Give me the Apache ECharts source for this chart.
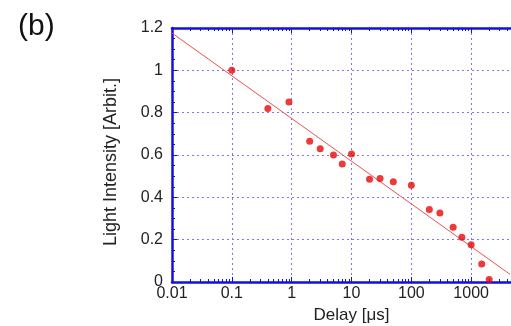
<!DOCTYPE html>
<html lang="en">
<head>
    <meta charset="UTF-8">
    <title>Light Intensity vs Delay</title>
    <script src="https://cdn.jsdelivr.net/npm/echarts@6/dist/echarts.min.js"></script>
    <style>
        html, body { margin: 0; padding: 0; background: #fff; }
        #main { width: 511px; height: 326px; }
    </style>
</head>
<body>
<div id="main"></div>
<script>
    // measured points
    var delay = [0.1, 0.4, 0.9, 2, 3, 5, 7, 10, 20, 30, 50, 100, 200, 300, 500, 700, 1000, 1500, 2000];
    var intensity = [1.0, 0.82, 0.85, 0.665, 0.63, 0.6, 0.558, 0.605, 0.486, 0.489, 0.474, 0.457, 0.342, 0.326, 0.259, 0.211, 0.176, 0.085, 0.012];
    // fitted line end points
    var fitX = [0.01, 4470];
    var fitY = [1.176, 0.036];

    var yTicks = ['0', '0.2', '0.4', '0.6', '0.8', '1', '1.2'];
    var blue = '#1010e0';
    var gridBlue = '#7a7aee';
    var font = 'Arial, "Liberation Sans", sans-serif';

    var pts = delay.map(function (d, i) { return [d, intensity[i]]; });
    var fit = fitX.map(function (d, i) { return [d, fitY[i]]; });

    var myChart = echarts.init(document.getElementById('main'));
    var option = {
        animation: false,
        title: {
            text: '(b)',
            left: 13,
            top: 7,
            textStyle: { fontFamily: font, fontSize: 30, fontWeight: 'normal', color: '#111' }
        },
        grid: { left: 172, right: -20, top: 28, bottom: 44, containLabel: false, outerBoundsMode: 'none' },
        xAxis: [{
            type: 'log',
            min: 0.01,
            max: 10000,
            logBase: 10,
            name: 'Delay [μs]',
            nameLocation: 'middle',
            nameGap: 24,
            nameTextStyle: { fontFamily: font, fontSize: 17, color: '#222' },
            axisLine: { lineStyle: { color: blue, width: 2.5 } },
            axisTick: { inside: true, length: 5, lineStyle: { color: blue } },
            minorTick: { show: true, splitNumber: 9, length: 3, lineStyle: { color: blue } },
            axisLabel: {
                fontFamily: font, fontSize: 16, color: '#222', margin: 4,
                showMaxLabel: false,
                formatter: function (v) { return v >= 10000 ? '' : String(v); }
            },
            splitLine: { show: true, lineStyle: { color: gridBlue, type: [2, 3], width: 1 } }
        }, {
            type: 'log',
            position: 'top',
            min: 0.01,
            max: 10000,
            logBase: 10,
            axisLine: { show: true, lineStyle: { color: blue, width: 2.5 } },
            axisTick: { inside: true, length: 5, lineStyle: { color: blue } },
            minorTick: { show: true, splitNumber: 9, length: 3, lineStyle: { color: blue } },
            axisLabel: { show: false },
            splitLine: { show: false }
        }],
        yAxis: {
            type: 'value',
            min: 0,
            max: 1.2,
            interval: 0.2,
            name: 'Light Intensity [Arbit.]',
            nameLocation: 'middle',
            nameGap: 52,
            nameTextStyle: { fontFamily: font, fontSize: 18, color: '#222', padding: [0, 14, 0, 0] },
            axisLine: { show: true, lineStyle: { color: blue, width: 2.5 } },
            axisTick: { show: true, inside: true, length: 5, lineStyle: { color: blue } },
            minorTick: { show: true, splitNumber: 4, length: 3, lineStyle: { color: blue } },
            axisLabel: {
                fontFamily: font, fontSize: 16, color: '#222', margin: 9,
                formatter: function (v) { return yTicks[Math.round(v / 0.2)]; }
            },
            splitLine: { show: true, lineStyle: { color: gridBlue, type: [2, 3], width: 1 } }
        },
        series: [{
            type: 'line',
            data: fit,
            symbol: 'none',
            lineStyle: { color: '#f05050', width: 1 },
            clip: true,
            z: 2
        }, {
            type: 'scatter',
            data: pts,
            symbol: 'circle',
            symbolSize: 7,
            itemStyle: { color: '#e80808' },
            z: 3
        }]
    };
    myChart.setOption(option);
</script>
</body>
</html>
